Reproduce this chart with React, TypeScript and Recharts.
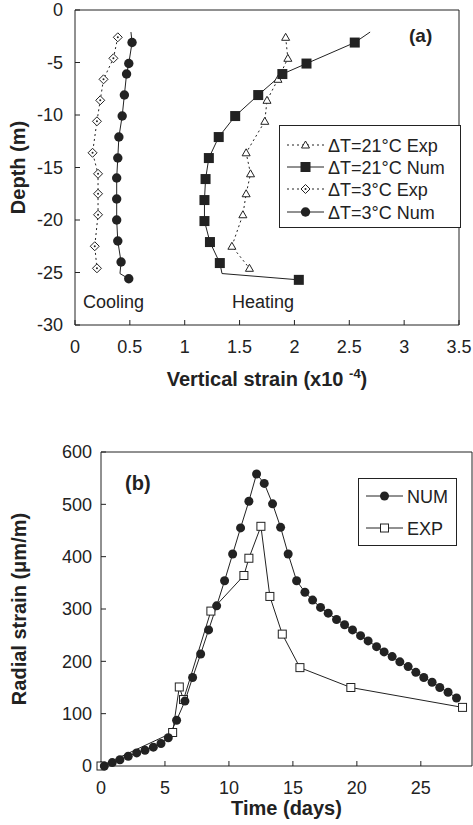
import React from "react";
import { LineChart, Line, XAxis, YAxis, Legend, Label } from "recharts";

const FONT = '"Liberation Sans", Arial, Helvetica, sans-serif';
const INK = "#222";

// (a) vertical strain (x10^-4) against depth (m)
const strainTicks = [0, 0.5, 1, 1.5, 2, 2.5, 3, 3.5];
const depthTicks = [0, -5, -10, -15, -20, -25, -30];

const heatExpStrain = [1.92, 1.94, 1.85, 1.75, 1.73, 1.56, 1.6, 1.56, 1.53, 1.43, 1.59];
const heatExpDepth = [-2.6, -4.6, -6.6, -8.6, -10.6, -13.6, -15.6, -17.5, -19.5, -22.5, -24.6];

const heatNumStrain = [2.69, 2.55, 2.11, 1.89, 1.67, 1.46, 1.31, 1.22, 1.19, 1.18, 1.18, 1.23, 1.32, 1.34, 2.04];
const heatNumDepth = [-2.1, -3.1, -5.1, -6.1, -8.1, -10.1, -12.1, -14.1, -16.1, -18.1, -20.1, -22.1, -24.1, -25.1, -25.7];
const heatNumMarked = [false, true, true, true, true, true, true, true, true, true, true, true, true, false, true];

const coolExpStrain = [0.39, 0.35, 0.26, 0.23, 0.2, 0.16, 0.21, 0.21, 0.21, 0.18, 0.2];
const coolExpDepth = [-2.6, -4.6, -6.6, -8.6, -10.6, -13.6, -15.6, -17.5, -19.5, -22.5, -24.6];

const coolNumStrain = [0.51, 0.52, 0.49, 0.47, 0.45, 0.43, 0.4, 0.39, 0.38, 0.38, 0.38, 0.39, 0.42, 0.41, 0.49];
const coolNumDepth = [-2.1, -3.1, -5.1, -6.1, -8.1, -10.1, -12.1, -14.1, -16, -18, -20, -22, -24, -25.1, -25.6];
const coolNumMarked = [false, true, true, true, true, true, true, true, true, true, true, true, true, false, true];

// (b) radial strain (um/m) against time (days)
const timeTicks = [0, 5, 10, 15, 20, 25];
const radialTicks = [0, 100, 200, 300, 400, 500, 600];

const numTime = [
  0.26, 0.88, 1.48, 2.13, 2.79, 3.44, 4.09, 4.69, 5.26, 5.91, 6.56, 7.16, 7.79, 8.41, 9.04,
  9.66, 10.29, 10.91, 11.56, 12.16, 12.76, 13.41, 14.04, 14.63, 15.29, 15.94, 16.54, 17.16,
  17.76, 18.41, 19.04, 19.66, 20.29, 20.88, 21.54, 22.13, 22.76, 23.36, 24.01, 24.61, 25.23,
  25.88, 26.48, 27.13, 27.79,
];
const numStrain = [
  0, 6.5, 12, 18.6, 25, 30, 36, 43, 54, 87.5, 124, 169, 214, 260, 306, 354, 405, 455, 506, 558,
  540, 501, 456, 405, 354, 332, 317, 303, 292, 280, 270, 260, 249, 239, 228, 218, 209, 199, 190,
  179, 169, 160, 150, 141, 130,
];

const expTime = [0, 5.6, 6.12, 6.45, 8.59, 11.17, 11.56, 12.5, 13.2, 14.17, 15.55, 19.53, 28.26];
const expStrain = [0, 64, 151, 127, 296, 364, 397, 458, 324, 252, 188, 150, 112];

const profile = (xs: number[], ds: number[], marked?: boolean[]) =>
  xs.map((x, i) => ({ strain: x, depth: ds[i], marked: marked ? marked[i] : true }));
const history = (ts: number[], vs: number[]) => ts.map((t, i) => ({ time: t, radial: vs[i] }));

type Kind = "circle" | "square" | "triangle" | "diamond" | "dot" | "box";

function Marker({ kind, cx, cy }: { kind: Kind; cx: number; cy: number }) {
  switch (kind) {
    case "circle":
      return <circle cx={cx} cy={cy} r={4.7} fill={INK} />;
    case "square":
      return <rect x={cx - 5} y={cy - 5} width={10} height={10} fill={INK} />;
    case "triangle":
      return (
        <polygon
          points={`${cx},${cy - 4} ${cx + 4},${cy + 3} ${cx - 4},${cy + 3}`}
          fill="#fff"
          stroke={INK}
          strokeWidth={1}
        />
      );
    case "diamond":
      return (
        <g>
          <polygon
            points={`${cx},${cy - 4.5} ${cx + 4.5},${cy} ${cx},${cy + 4.5} ${cx - 4.5},${cy}`}
            fill="#fff"
            stroke={INK}
            strokeWidth={1}
          />
          <circle cx={cx} cy={cy} r={1} fill={INK} />
        </g>
      );
    case "dot":
      return <circle cx={cx} cy={cy} r={4.5} fill={INK} />;
    case "box":
      return <rect x={cx - 4} y={cy - 4} width={8} height={8} fill="#fff" stroke={INK} strokeWidth={1} />;
  }
}

const dotOf = (kind: Kind) => (p: any) => {
  const { cx, cy, index, payload } = p;
  if (cx == null || cy == null || (payload && payload.marked === false)) return <g key={`m-${index}`} />;
  return (
    <g key={`m-${index}`}>
      <Marker kind={kind} cx={cx} cy={cy} />
    </g>
  );
};

type Entry = { label: string; kind: Kind; dashed: boolean };

function LegendBox({ entries, width, height, rows }: { entries: Entry[]; width: number; height: number; rows: number[] }) {
  return (
    <svg width={width} height={height} style={{ display: "block" }}>
      <rect x={0.5} y={0.5} width={width - 1} height={height - 1} fill="#fff" stroke={INK} />
      {entries.map((e, i) => (
        <g key={e.label}>
          <line
            x1={8}
            x2={45}
            y1={rows[i]}
            y2={rows[i]}
            stroke={INK}
            strokeWidth={1}
            strokeDasharray={e.dashed ? "2 3" : undefined}
          />
          <Marker kind={e.kind} cx={26.5} cy={rows[i]} />
          <text x={49} y={rows[i] + 6.5} fontFamily={FONT} fontSize={18} fill={INK}>
            {e.label}
          </text>
        </g>
      ))}
    </svg>
  );
}

const legendA: Entry[] = [
  { label: "\u0394T=21\u00b0C Exp", kind: "triangle", dashed: true },
  { label: "\u0394T=21\u00b0C Num", kind: "square", dashed: false },
  { label: "\u0394T=3\u00b0C Exp", kind: "diamond", dashed: true },
  { label: "\u0394T=3\u00b0C Num", kind: "circle", dashed: false },
];
const legendB: Entry[] = [
  { label: "NUM", kind: "dot", dashed: false },
  { label: "EXP", kind: "box", dashed: false },
];

const tickStyle = { fill: INK, fontSize: 18, fontFamily: FONT };
const titleStyle = { fill: INK, fontSize: 20, fontFamily: FONT, fontWeight: 700 } as const;

function XTitle(props: any, below: number, children: React.ReactNode) {
  const vb = props.viewBox || {};
  return (
    <text x={vb.x + vb.width / 2} y={vb.y + below} textAnchor="middle" {...titleStyle}>
      {children}
    </text>
  );
}

function YTitle(props: any, baseX: number, text: string) {
  const vb = props.viewBox || {};
  const cy = vb.y + vb.height / 2;
  return (
    <text x={baseX} y={cy} textAnchor="middle" transform={`rotate(-90, ${baseX}, ${cy})`} {...titleStyle}>
      {text}
    </text>
  );
}

function ProfileChart() {
  return (
    <LineChart width={473} height={400} margin={{ top: 0, right: 0, bottom: 0, left: 0 }}>
      <XAxis
        xAxisId="b"
        dataKey="strain"
        type="number"
        domain={[0, 3.5]}
        ticks={strainTicks}
        interval={0}
        height={75}
        tickSize={-5}
        tickMargin={20}
        tick={tickStyle}
        stroke={INK}
        allowDuplicatedCategory={false}
      >
        <Label
          content={(p: any) =>
            XTitle(p, 61, (
              <>
                <tspan>Vertical strain (x10 </tspan>
                <tspan dy={-8} fontSize={13}>-4</tspan>
                <tspan dy={8}>)</tspan>
              </>
            ))
          }
        />
      </XAxis>
      <XAxis xAxisId="t" orientation="top" type="number" domain={[0, 3.5]} ticks={strainTicks} interval={0} height={10} tickSize={-5} tick={false} stroke={INK} />
      <YAxis
        yAxisId="l"
        type="number"
        domain={[-30, 0]}
        ticks={depthTicks}
        interval={0}
        width={75}
        tickSize={-5}
        tickMargin={17}
        tick={tickStyle}
        stroke={INK}
      >
        <Label content={(p: any) => YTitle(p, 25, "Depth (m)")} />
      </YAxis>
      <YAxis yAxisId="r" orientation="right" type="number" domain={[-30, 0]} ticks={depthTicks} interval={0} width={14} tickSize={-5} tick={false} stroke={INK} />

      <Line xAxisId="b" yAxisId="l" data={profile(heatExpStrain, heatExpDepth)} dataKey="depth" type="linear" stroke={INK} strokeWidth={1} strokeDasharray="2 3" dot={dotOf("triangle")} activeDot={false} isAnimationActive={false} />
      <Line xAxisId="b" yAxisId="l" data={profile(coolExpStrain, coolExpDepth)} dataKey="depth" type="linear" stroke={INK} strokeWidth={1} strokeDasharray="2 3" dot={dotOf("diamond")} activeDot={false} isAnimationActive={false} />
      <Line xAxisId="b" yAxisId="l" data={profile(heatNumStrain, heatNumDepth, heatNumMarked)} dataKey="depth" type="linear" stroke={INK} strokeWidth={1} dot={dotOf("square")} activeDot={false} isAnimationActive={false} />
      <Line xAxisId="b" yAxisId="l" data={profile(coolNumStrain, coolNumDepth, coolNumMarked)} dataKey="depth" type="linear" stroke={INK} strokeWidth={1} dot={dotOf("circle")} activeDot={false} isAnimationActive={false} />

      <Legend
        layout="horizontal"
        verticalAlign="middle"
        align="center"
        wrapperStyle={{ left: 279, top: 125, width: 182, height: 103 }}
        content={() => <LegendBox entries={legendA} width={182} height={103} rows={[20, 42, 64, 87]} />}
      />

      <text x={409} y={42} fontFamily={FONT} fontSize={19} fontWeight={700} fill={INK}>(a)</text>
      <text x={83} y={308} fontFamily={FONT} fontSize={18} fill={INK}>Cooling</text>
      <text x={232} y={308} fontFamily={FONT} fontSize={18} fill={INK}>Heating</text>
    </LineChart>
  );
}

function HistoryChart() {
  return (
    <LineChart width={473} height={400} margin={{ top: 0, right: 0, bottom: 0, left: 0 }}>
      <XAxis
        xAxisId="b"
        dataKey="time"
        type="number"
        domain={[0, 29]}
        ticks={timeTicks}
        interval={0}
        height={59}
        tickSize={-5}
        tickMargin={20}
        tick={tickStyle}
        stroke={INK}
      >
        <Label content={(p: any) => XTitle(p, 49, "Time (days)")} />
      </XAxis>
      <XAxis xAxisId="t" orientation="top" type="number" domain={[0, 29]} ticks={timeTicks} interval={0} height={27} tickSize={-5} tick={false} stroke={INK} />
      <YAxis
        yAxisId="l"
        type="number"
        domain={[0, 600]}
        ticks={radialTicks}
        interval={0}
        width={101}
        tickSize={-5}
        tickMargin={14}
        tick={tickStyle}
        stroke={INK}
      >
        <Label content={(p: any) => YTitle(p, 26, "Radial strain (\u03bcm/m)")} />
      </YAxis>
      <YAxis yAxisId="r" orientation="right" type="number" domain={[0, 600]} ticks={radialTicks} interval={0} width={1} tickSize={-5} tick={false} stroke={INK} />

      <Line xAxisId="b" yAxisId="l" data={history(expTime, expStrain)} dataKey="radial" type="linear" stroke={INK} strokeWidth={1} dot={dotOf("box")} activeDot={false} isAnimationActive={false} />
      <Line xAxisId="b" yAxisId="l" data={history(numTime, numStrain)} dataKey="radial" type="linear" stroke={INK} strokeWidth={1} dot={dotOf("dot")} activeDot={false} isAnimationActive={false} />

      <Legend
        layout="horizontal"
        verticalAlign="middle"
        align="center"
        wrapperStyle={{ left: 358, top: 53, width: 99, height: 68 }}
        content={() => <LegendBox entries={legendB} width={99} height={68} rows={[18, 50]} />}
      />

      <text x={125} y={65} fontFamily={FONT} fontSize={20} fontWeight={700} fill={INK}>(b)</text>
    </LineChart>
  );
}

export default function App() {
  return (
    <div style={{ position: "absolute", left: 0, top: 0, width: 473, height: 825, background: "#fff" }}>
      <div style={{ position: "absolute", left: 0, top: 0 }}>
        <ProfileChart />
      </div>
      <div style={{ position: "absolute", left: 0, top: 425 }}>
        <HistoryChart />
      </div>
    </div>
  );
}
